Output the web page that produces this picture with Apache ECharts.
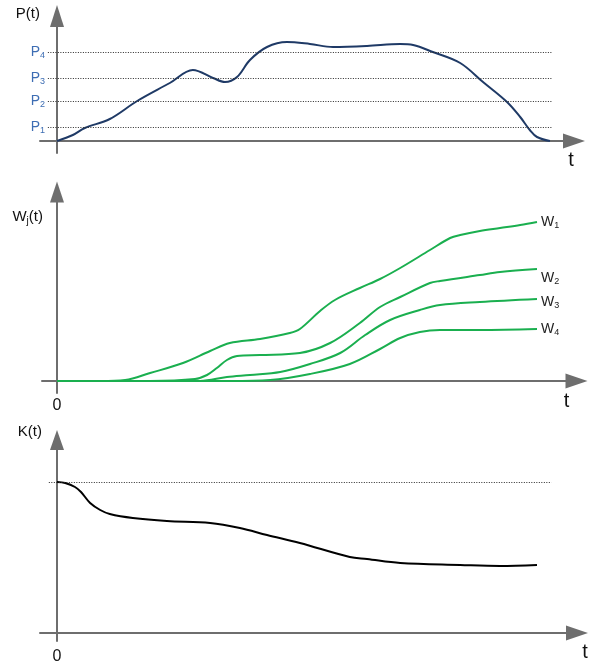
<!DOCTYPE html>
<html>
<head>
<meta charset="utf-8">
<script src="https://cdn.jsdelivr.net/npm/echarts@6/dist/echarts.min.js"></script>
<style>
  html, body { margin: 0; padding: 0; background: #ffffff; }
  #chart { width: 596px; height: 668px; }
</style>
</head>
<body>
<div id="chart"></div>
<script>
// ---- Power P(t) ----
const pTime  = [0, 3.3, 5.8, 11.0, 16.7, 23.5, 28.3, 32.5, 35.0, 37.5, 40.2, 43.75, 47.9, 52.7, 57.5, 64.6, 71.5, 74.2, 78.3, 84.0, 88.75, 93.75, 96.5, 98.5, 100, 102.7];
const pValue = [0, 6, 13, 22, 40, 58, 71, 63, 59, 64, 81, 94, 99, 97, 94, 95, 97, 96, 89, 78, 59, 39, 24, 11, 4, 0];
const pLevels = [14, 40, 63, 89];
const pLevelSubs = ['1', '2', '3', '4'];

// ---- Cumulative W_j(t) ----
const w1Time  = [0, 9.0, 14.2, 19.4, 26.25, 31.9, 36.0, 42.3, 48.5, 50.6, 54.8, 57.9, 63.1, 67.3, 71.5, 77.7, 81.9, 84.0, 88.1, 92.3, 96.5, 100];
const w1Value = [0, 0, 1, 8, 18, 30, 38, 42, 48, 52, 70, 81, 93, 102, 113, 131, 143, 146, 150, 153, 156, 159];
const w2Time  = [0, 19.4, 28.75, 31.25, 33.3, 35.4, 37.5, 42.3, 50.6, 56.9, 63.1, 67.3, 71.5, 77.7, 79.8, 88.1, 92.3, 100];
const w2Value = [0, 0, 2, 6, 13, 21, 25, 26, 28, 38, 58, 74, 84, 98, 100, 106, 109, 112];
const w3Time  = [0, 29.8, 35.4, 40.2, 46.5, 52.7, 59.0, 64.2, 69.4, 75.6, 79.8, 88.1, 100];
const w3Value = [0, 0, 4, 6, 9, 17, 28, 46, 61, 71, 76, 79, 82];
const w4Time  = [0, 36.0, 44.4, 52.7, 61.0, 67.3, 71.5, 75.6, 79.8, 88.1, 100];
const w4Value = [0, 0, 1, 7, 17, 32, 43, 49, 51, 51, 52];
const wNames = ['1', '2', '3', '4'];

// ---- Coefficient K(t) ----
const kTime  = [0, 1.7, 3.75, 5.0, 6.9, 9.0, 11.0, 15.8, 22.9, 31.9, 38.1, 43.75, 50.6, 61.0, 64.6, 71.5, 84.0, 92.3, 100];
const kValue = [151, 150, 146, 141, 130, 123, 119, 115, 112, 110, 105, 98, 90, 76, 74, 70, 68, 67, 68];
const kLevel = 151;

const zip = (xs, ys) => xs.map((x, i) => [x, ys[i]]);

// ---- layout ----
const PX_PER_T = 4.8;     // horizontal pixels per time unit
const ORIGIN_X = 57;      // pixel column of t = 0
const FONT = 'Liberation Sans, Arial, sans-serif';
const AXIS_COLOR = '#6e6e6e';
const BLUE = '#3d6db3';
const GREEN = '#1aaf4f';

const grids = [
  { left: 40, right: 22,   top: 16,  bottom: 515 },
  { left: 42, right: 19.5, top: 192, bottom: 275 },
  { left: 40, right: 19,   top: 440, bottom: 27 }
];
const yRanges = [[-12, 125], [-12, 189], [-8, 193]];
const yArrowLen = [22, 21, 20];

function xRange(g) {
  return [-(ORIGIN_X - g.left) / PX_PER_T, (596 - g.right - ORIGIN_X) / PX_PER_T];
}

const subRich = (color, size) => ({
  b: { fontSize: size, color: color, fontFamily: FONT },
  s: { fontSize: 9, color: color, fontFamily: FONT, padding: [8, 0, 0, 0] }
});

// tick labels sit relative to the grid edge
const zeroLabelMargin = [0, 5, 8];

const xAxes = grids.map((g, i) => {
  const r = xRange(g);
  return {
    type: 'value', gridIndex: i, min: r[0], max: r[1],
    axisLine: {
      show: true, onZero: true, symbol: ['none', 'triangle'], symbolSize: [15, 22],
      lineStyle: { color: AXIS_COLOR, width: 2 }
    },
    axisTick: { show: false },
    splitLine: { show: false },
    axisLabel: i === 0 ? { show: false } : {
      show: true, customValues: [0], formatter: () => '0',
      fontSize: 16, color: '#111', fontFamily: FONT, margin: zeroLabelMargin[i]
    }
  };
});

const yNames = ['{b|P(t)}', '{b|W}{s|j}{b|(t)}', '{b|K(t)}'];
const yNameGaps = [2.5, -25, 8];
const yNamePad = [17, 14, 15];

const yAxes = grids.map((g, i) => ({
  type: 'value', gridIndex: i, min: yRanges[i][0], max: yRanges[i][1],
  name: yNames[i], nameLocation: 'end', nameGap: yNameGaps[i],
  nameTextStyle: {
    align: 'right', verticalAlign: 'middle', padding: [0, yNamePad[i], 0, 0],
    rich: {
      b: { fontSize: 15, color: '#111', fontFamily: FONT },
      s: { fontSize: 10, color: '#111', fontFamily: FONT, padding: [8, 0, 0, 0] }
    }
  },
  axisLine: {
    show: true, onZero: true, symbol: ['none', 'triangle'], symbolSize: [14, yArrowLen[i]],
    lineStyle: { color: AXIS_COLOR, width: 2 }
  },
  axisTick: { show: false },
  splitLine: { show: false },
  axisLabel: i === 0 ? {
    show: true, customValues: pLevels, margin: -5,
    formatter: (v) => '{b|P}{s|' + pLevelSubs[pLevels.indexOf(v)] + '}',
    rich: subRich(BLUE, 14)
  } : { show: false }
}));

const dottedStyle = { type: [1, 1.5], color: '#2a2a2a', width: 1 };
const levelLine = (level, x0, x1) => [{ coord: [x0, level] }, { coord: [x1, level] }];

const wSeries = [[w1Time, w1Value, [0, 0]], [w2Time, w2Value, [0, 9]], [w3Time, w3Value, [0, 3]], [w4Time, w4Value, [0, 0]]]
  .map(([ts, vs, off], i) => ({
    type: 'line', xAxisIndex: 1, yAxisIndex: 1,
    data: zip(ts, vs), smooth: 0.35, showSymbol: false, symbol: 'none',
    lineStyle: { color: GREEN, width: 2 },
    endLabel: {
      show: true, distance: 4, offset: off,
      formatter: () => '{b|W}{s|' + wNames[i] + '}',
      rich: subRich('#222', 14)
    },
    z: 3
  }));

const option = {
  animation: false,
  backgroundColor: '#ffffff',
  grid: grids.map(g => Object.assign({ containLabel: false, outerBoundsMode: 'none' }, g)),
  xAxis: xAxes,
  yAxis: yAxes,
  series: [
    {
      type: 'line', xAxisIndex: 0, yAxisIndex: 0,
      data: zip(pTime, pValue), smooth: 0.35, showSymbol: false, symbol: 'none',
      lineStyle: { color: '#1f3a66', width: 2 },
      z: 3,
      markLine: {
        silent: true, symbol: ['none', 'none'], label: { show: false },
        lineStyle: dottedStyle,
        data: pLevels.map(l => levelLine(l, -1.9, 103))
      }
    },
    ...wSeries,
    {
      type: 'line', xAxisIndex: 2, yAxisIndex: 2,
      data: zip(kTime, kValue), smooth: 0.35, showSymbol: false, symbol: 'none',
      lineStyle: { color: '#000000', width: 2 },
      z: 3,
      markLine: {
        silent: true, symbol: ['none', 'none'], label: { show: false },
        lineStyle: dottedStyle,
        data: [levelLine(kLevel, -1.7, 103)]
      }
    }
  ]
};

const chart = echarts.init(document.getElementById('chart'), null, { renderer: 'canvas' });
chart.setOption(option);

// "t" axis titles, placed under each arrow head relative to the axis origin row
const tOffsets = [[-3, 19.5], [-10, 20.5], [8, 19]];
chart.setOption({
  graphic: grids.map((g, i) => {
    const origin = chart.convertToPixel({ gridIndex: i }, [0, 0]);
    return {
      type: 'text',
      x: 596 - g.right + tOffsets[i][0],
      y: origin[1] + tOffsets[i][1],
      silent: true,
      style: {
        text: 't', fontSize: 20, fontFamily: FONT, fill: '#111',
        align: 'center', verticalAlign: 'middle'
      }
    };
  })
});
</script>
</body>
</html>
